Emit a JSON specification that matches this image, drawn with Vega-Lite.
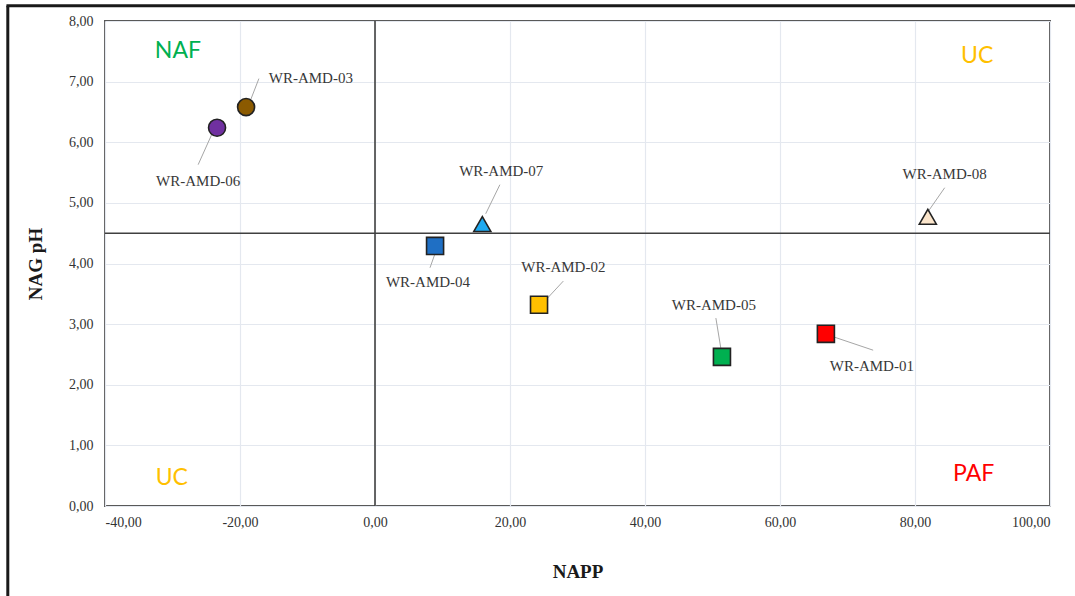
{
  "$schema": "https://vega.github.io/schema/vega-lite/v6.json",
  "width": 945,
  "height": 485,
  "autosize": "none",
  "padding": {"left": 105, "top": 21, "right": 25, "bottom": 90},
  "background": "white",
  "data": {"values": [{"one": 1}]},
  "config": {
    "view": {"stroke": "#595959", "strokeWidth": 2},
    "axis": {
      "domain": false,
      "ticks": false,
      "grid": true,
      "gridColor": "#E4E8EF",
      "gridWidth": 1.2,
      "labelFont": "Liberation Serif",
      "labelFontSize": 14,
      "labelColor": "#333333",
      "titleFont": "Liberation Serif",
      "titleFontSize": 19,
      "titleFontWeight": "bold",
      "titleColor": "#1a1a1a"
    }
  },
  "datasets": {
    "samples": [
      {"sample": "WR-AMD-01", "napp": 66.8, "ph": 2.84, "lx": 73.6, "ly": 2.31, "ax": 67.4, "ay": 2.81, "bx": 73.8, "by": 2.57},
      {"sample": "WR-AMD-02", "napp": 24.3, "ph": 3.32, "lx": 27.9, "ly": 3.94, "ax": 24.9, "ay": 3.35, "bx": 27.9, "by": 3.71},
      {"sample": "WR-AMD-03", "napp": -19.1, "ph": 6.58, "lx": -9.5, "ly": 7.06, "ax": -18.7, "ay": 6.62, "bx": -17.2, "by": 7.05},
      {"sample": "WR-AMD-04", "napp": 8.9, "ph": 4.29, "lx": 7.85, "ly": 3.7, "ax": 9.2, "ay": 4.26, "bx": 8.15, "by": 3.93},
      {"sample": "WR-AMD-05", "napp": 51.4, "ph": 2.46, "lx": 50.2, "ly": 3.32, "ax": 51.4, "ay": 2.49, "bx": 50.5, "by": 3.1},
      {"sample": "WR-AMD-06", "napp": -23.4, "ph": 6.24, "lx": -26.2, "ly": 5.36, "ax": -23.9, "ay": 6.2, "bx": -26.2, "by": 5.63},
      {"sample": "WR-AMD-07", "napp": 15.9, "ph": 4.65, "lx": 18.7, "ly": 5.53, "ax": 16.4, "ay": 4.82, "bx": 18.5, "by": 5.3},
      {"sample": "WR-AMD-08", "napp": 81.9, "ph": 4.77, "lx": 84.4, "ly": 5.48, "ax": 81.9, "ay": 4.85, "bx": 84.4, "by": 5.25}
    ],
    "zones": [
      {"zone": "NAF", "kind": "NAF", "qx": -29.2, "qy": 7.5},
      {"zone": "UC", "kind": "UC", "qx": 89.2, "qy": 7.43},
      {"zone": "UC", "kind": "UC", "qx": -30.1, "qy": 0.47},
      {"zone": "PAF", "kind": "PAF", "qx": 88.7, "qy": 0.53}
    ]
  },
  "layer": [
    {
      "data": {"name": "samples"},
      "mark": {"type": "point", "opacity": 0},
      "encoding": {
        "x": {"field": "napp", "type": "quantitative", "title": "NAPP",
          "scale": {"domain": [-40, 100], "nice": false, "zero": false},
          "axis": {"values": [-40, -20, 0, 20, 40, 60, 80, 100], "labelPadding": 9, "titlePadding": 33,
            "labelExpr": "replace(replace(format(datum.value, '.2f'), '.', ','), '\u2212', '-')"}},
        "y": {"field": "ph", "type": "quantitative", "title": "NAG pH",
          "scale": {"domain": [0, 8], "nice": false, "zero": false},
          "axis": {"values": [0, 1, 2, 3, 4, 5, 6, 7, 8], "labelPadding": 12, "titlePadding": 23,
            "labelExpr": "replace(format(datum.value, '.2f'), '.', ',')"}}
      }
    },
    {
      "mark": {"type": "rule", "color": "#1a1a1a", "strokeWidth": 3},
      "encoding": {"x": {"datum": -54.4}, "y": {"datum": 8.25}, "y2": {"datum": -1.6}}
    },
    {
      "mark": {"type": "rule", "color": "#1a1a1a", "strokeWidth": 3},
      "encoding": {"y": {"datum": 8.25}, "x": {"datum": -54.6}, "x2": {"datum": 104}}
    },
    {
      "mark": {"type": "rule", "color": "#404040", "strokeWidth": 1.6},
      "encoding": {"x": {"datum": 0}}
    },
    {
      "mark": {"type": "rule", "color": "#404040", "strokeWidth": 1.6},
      "encoding": {"y": {"datum": 4.5}}
    },
    {
      "data": {"name": "samples"},
      "mark": {"type": "rule", "color": "#A6A6A6", "strokeWidth": 1},
      "encoding": {
        "x": {"field": "ax", "type": "quantitative"},
        "y": {"field": "ay", "type": "quantitative"},
        "x2": {"field": "bx"},
        "y2": {"field": "by"}
      }
    },
    {
      "data": {"name": "samples"},
      "mark": {"type": "point", "filled": true, "stroke": "#222222", "strokeWidth": 1.6, "opacity": 1},
      "encoding": {
        "x": {"field": "napp", "type": "quantitative"},
        "y": {"field": "ph", "type": "quantitative"},
        "color": {"field": "sample", "type": "nominal", "legend": null,
          "scale": {"domain": ["WR-AMD-01", "WR-AMD-02", "WR-AMD-03", "WR-AMD-04", "WR-AMD-05", "WR-AMD-06", "WR-AMD-07", "WR-AMD-08"],
            "range": ["#FF0000", "#FFC000", "#8B5A00", "#1F6FC4", "#00B050", "#7030A0", "#1EAAF1", "#FBE5CB"]}},
        "shape": {"field": "sample", "type": "nominal", "legend": null,
          "scale": {"domain": ["WR-AMD-01", "WR-AMD-02", "WR-AMD-03", "WR-AMD-04", "WR-AMD-05", "WR-AMD-06", "WR-AMD-07", "WR-AMD-08"],
            "range": ["square", "square", "circle", "square", "square", "circle", "triangle-up", "triangle-up"]}},
        "size": {"field": "sample", "type": "nominal", "legend": null,
          "scale": {"domain": ["WR-AMD-01", "WR-AMD-02", "WR-AMD-03", "WR-AMD-04", "WR-AMD-05", "WR-AMD-06", "WR-AMD-07", "WR-AMD-08"],
            "range": [290, 290, 170, 290, 290, 170, 250, 250]}}
      }
    },
    {
      "data": {"name": "samples"},
      "mark": {"type": "text", "font": "Liberation Serif", "fontSize": 15, "color": "#383838"},
      "encoding": {
        "x": {"field": "lx", "type": "quantitative"},
        "y": {"field": "ly", "type": "quantitative"},
        "text": {"field": "sample"}
      }
    },
    {
      "data": {"name": "zones"},
      "mark": {"type": "text", "font": "Lato", "fontSize": 23},
      "encoding": {
        "x": {"field": "qx", "type": "quantitative"},
        "y": {"field": "qy", "type": "quantitative"},
        "text": {"field": "zone"},
        "color": {"field": "kind", "type": "nominal", "legend": null,
          "scale": {"domain": ["NAF", "UC", "PAF"], "range": ["#00B050", "#FFC000", "#FF0000"]}}
      }
    }
  ],
  "resolve": {"scale": {"color": "independent"}}
}
